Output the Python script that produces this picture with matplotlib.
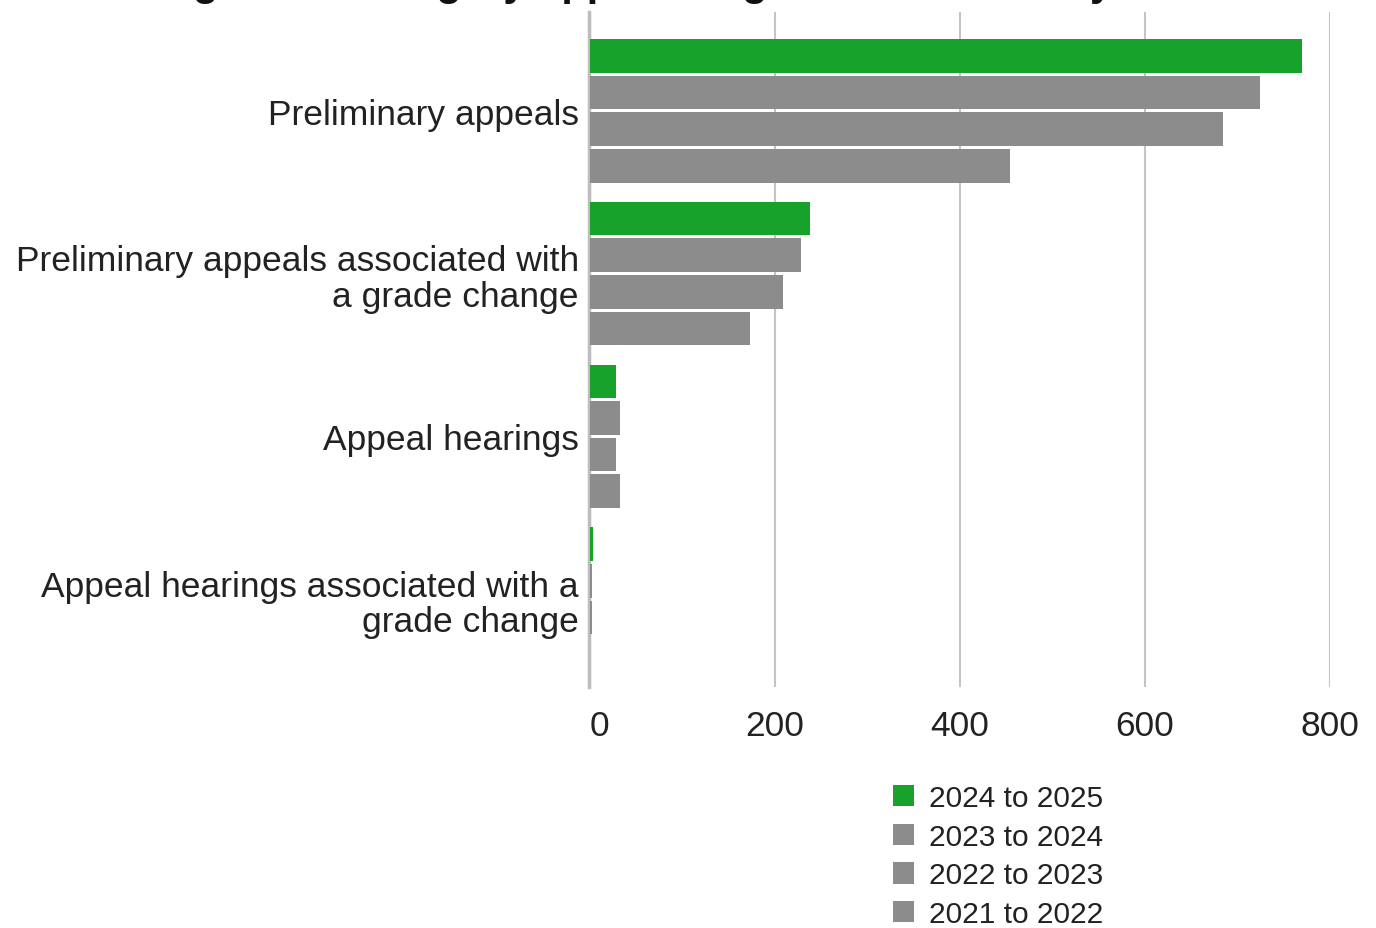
import numpy as np
import matplotlib.pyplot as plt
from matplotlib.patches import Patch

plt.rcParams['font.family'] = ['Liberation Sans', 'DejaVu Sans']

categories = ['Preliminary appeals',
              'Preliminary appeals associated with\na grade change',
              'Appeal hearings',
              'Appeal hearings associated with a\ngrade change']
years = ['2024 to 2025', '2023 to 2024', '2022 to 2023', '2021 to 2022']
v_2024_25 = [770, 238, 28, 3]
v_2023_24 = [724, 228, 32, 2]
v_2022_23 = [684, 209, 28, 2]
v_2021_22 = [454, 173, 32, 0]
series = [v_2024_25, v_2023_24, v_2022_23, v_2021_22]
colors = ['#17a32b', '#8c8c8c', '#8c8c8c', '#8c8c8c']
title = 'Number of general category appeal stage and academic year'

fig = plt.figure(figsize=(13.76, 9.29), dpi=100)
ax = fig.add_axes([590/1376, (929-688)/929, 740/1376, 675/929])

y = np.arange(len(categories))
slot = 0.225
for i, vals in enumerate(series):
    ax.barh(y + (i - 1.5)*slot, vals, height=slot - 0.018, color=colors[i],
            linewidth=0, zorder=3)

ax.set_xlim(0, 800)
ax.set_ylim(3.54, -0.607)
ax.set_xticks([0, 200, 400, 600, 800])
ax.set_yticks(y)
ax.set_yticklabels(categories, linespacing=1.1)
ax.tick_params(axis='both', length=0, labelsize=25.5, colors='#222222')
ax.tick_params(axis='y', pad=8)
ax.tick_params(axis='x', pad=16)
ax.grid(axis='x', color='#c4c4c4', linewidth=1.5, zorder=0)
for s in ax.spines.values():
    s.set_visible(False)
# grey line at zero, just left of the bars
ax.axvline(-1.5, color='#bdbdbd', linewidth=2.5, zorder=2, clip_on=False)
xl = ax.get_xticklabels()
xl[0].set_ha('left')

handles = [Patch(facecolor=c, edgecolor='none') for c in colors]
fig.legend(handles, years, loc='upper left', bbox_to_anchor=(866/1376, 1 - 758/929),
           frameon=False, fontsize=21.5, handlelength=0.72, handleheight=0.72,
           handletextpad=0.5, labelspacing=0.36, labelcolor='#222222')

fig.text(-27/1376, 1 + 5/929, title, fontsize=30, fontweight='bold',
         ha='left', va='baseline', color='#111111')

fig.savefig('out.png', dpi=100)
